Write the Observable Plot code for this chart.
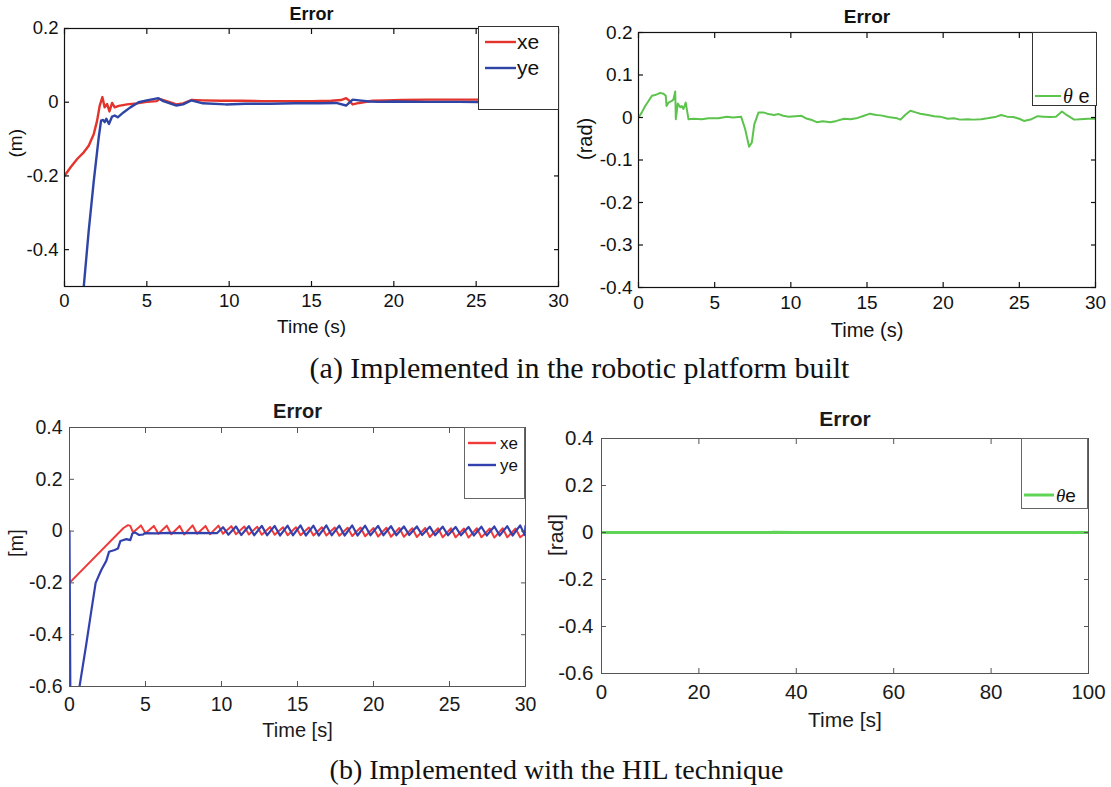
<!DOCTYPE html>
<html><head><meta charset="utf-8">
<script src="https://cdn.jsdelivr.net/npm/d3@7"></script>
<script src="https://cdn.jsdelivr.net/npm/@observablehq/plot@0.6"></script>
<style>
body{margin:0;background:#fff;}
#root{position:relative;width:1111px;height:787px;overflow:hidden;background:#fff;font-family:"Liberation Sans",Arial,sans-serif;}
.panel{position:absolute;}
.legend{position:absolute;background:#fff;box-sizing:border-box;}
.cap{position:absolute;font-family:"Liberation Serif","Times New Roman",serif;white-space:nowrap;color:#111;line-height:1;}
</style></head><body><div id="root"></div>
<script>
// ---------- data ----------
// (a) robotic platform: position errors [time (s), error (m)]
const xeRobot = [[0,-0.2],[0.36,-0.177],[0.77,-0.154],[1.17,-0.136],[1.47,-0.118],[1.78,-0.086],[1.98,-0.05],[2.14,-0.009],[2.3,0.014],[2.44,-0.014],[2.59,-0.005],[2.73,-0.025],[2.89,-0.002],[3.05,-0.014],[3.3,-0.01],[3.8,-0.006],[4.4,-0.003],[5.0,0.001],[5.6,0.003],[5.76,0.009],[6.2,0.003],[6.8,-0.006],[7.2,-0.003],[7.7,0.006],[8.4,0.005],[9.5,0.004],[10.7,0.004],[12,0.003],[13.5,0.003],[15,0.003],[16.2,0.004],[16.8,0.006],[17.1,0.011],[17.3,0.004],[17.5,-0.006],[17.9,-0.002],[18.7,0.004],[19.5,0.005],[20.5,0.006],[22,0.007],[24,0.007],[26,0.007],[28,0.006],[30,0.006]];
const yeRobot = [[0,-1.0],[1.17,-0.5],[1.47,-0.349],[1.78,-0.213],[2.08,-0.095],[2.22,-0.05],[2.34,-0.048],[2.44,-0.054],[2.54,-0.045],[2.7,-0.059],[2.89,-0.039],[3.05,-0.036],[3.23,-0.041],[3.6,-0.027],[4.0,-0.014],[4.5,0],[5.0,0.005],[5.7,0.011],[6.0,0.003],[6.8,-0.009],[7.2,-0.006],[7.7,0.005],[8.4,-0.003],[9.8,-0.006],[11,-0.004],[12.5,-0.004],[14,-0.003],[15.5,-0.003],[16.5,-0.002],[17.1,-0.009],[17.5,0.007],[17.9,0.005],[18.5,0.002],[19.1,0.001],[20,0.002],[22,0.001],[24,0.001],[26,0],[28,0],[30,0]];
// (a) robotic platform: orientation error [time (s), error (rad)]
const thetaRobot = [[0,0],[0.22,0.012],[0.44,0.027],[0.66,0.039],[0.88,0.051],[1.09,0.053],[1.25,0.055],[1.42,0.058],[1.64,0.056],[1.79,0.051],[1.84,0.027],[1.97,0.035],[2.19,0.039],[2.3,0.043],[2.41,0.061],[2.45,-0.004],[2.58,0.033],[2.74,0.024],[2.84,0.027],[2.95,0.02],[3.1,0.035],[3.28,-0.004],[3.6,-0.003],[4.16,-0.004],[4.6,-0.002],[5.25,-0.002],[5.8,0.002],[6.2,0],[6.74,0.0016],[7.0,-0.027],[7.26,-0.069],[7.44,-0.059],[7.6,-0.016],[7.88,0.012],[8.2,0.012],[8.53,0.008],[8.9,0.006],[9.2,0.008],[9.5,0.004],[9.85,0.002],[10.3,0.003],[10.7,0.004],[11.07,-0.003],[11.4,-0.006],[11.7,-0.011],[12.1,-0.009],[12.6,-0.011],[13.0,-0.008],[13.5,-0.003],[13.9,-0.004],[14.3,-0.002],[14.8,0.004],[15.2,0.009],[15.6,0.006],[15.9,0.005],[16.4,0.001],[16.98,-0.002],[17.2,-0.005],[17.5,0.006],[17.85,0.016],[18.2,0.012],[18.5,0.009],[19.0,0.006],[19.4,0.003],[19.8,0.002],[20.3,-0.003],[20.7,-0.002],[21.1,-0.005],[21.6,-0.004],[22.0,-0.005],[22.5,-0.004],[22.9,-0.002],[23.4,0.001],[23.8,0.006],[24.2,0.002],[24.6,0.001],[25.0,-0.003],[25.3,-0.008],[25.8,-0.004],[26.2,0.003],[26.6,0.002],[27.0,0.001],[27.4,0.002],[27.8,0.014],[28.1,0.006],[28.6,-0.005],[29.0,-0.004],[29.5,-0.003],[30,-0.003]];
// (b) HIL: position errors [time (s), error (m)]
const xeHIL = [[0,-0.2],[3.55,0.012],[3.85,0.023],[4.0,0.02],[4.18,-0.005],[4.7,0.022],[5.0,-0.008],[5.55,0.02],[5.85,-0.01],[6.4,0.021],[6.7,-0.012],[7.25,0.02],[7.55,-0.013],[8.1,0.022],[8.4,-0.01],[8.95,0.02],[9.25,-0.012],[9.8,0.021],[10.1,-0.01],[10.65,0.019],[10.95,-0.012],[11.5,0.018],[11.8,-0.013],[12.35,0.017],[12.65,-0.014],[13.2,0.016],[13.5,-0.014],[14.05,0.015],[14.35,-0.016],[14.9,0.015],[15.2,-0.016],[15.75,0.014],[16.05,-0.017],[16.6,0.015],[16.9,-0.017],[17.45,0.014],[17.75,-0.018],[18.3,0.013],[18.6,-0.019],[19.15,0.014],[19.45,-0.02],[20.0,0.012],[20.3,-0.021],[20.85,0.013],[21.15,-0.022],[21.7,0.012],[22.0,-0.022],[22.55,0.011],[22.85,-0.023],[23.4,0.012],[23.7,-0.023],[24.25,0.011],[24.55,-0.024],[25.1,0.011],[25.4,-0.024],[25.95,0.01],[26.25,-0.025],[26.8,0.011],[27.1,-0.024],[27.65,0.01],[27.95,-0.025],[28.5,0.011],[28.8,-0.024],[29.35,0.01],[29.65,-0.024],[30,-0.008]];
const yeHIL = [[0,0],[0.08,-0.9],[0.66,-0.6],[1.1,-0.438],[1.43,-0.31],[1.72,-0.2],[2.09,-0.15],[2.42,-0.115],[2.6,-0.08],[2.97,-0.073],[3.19,-0.067],[3.35,-0.038],[3.74,-0.031],[4.0,-0.035],[4.14,-0.009],[4.3,-0.005],[4.58,-0.015],[4.85,-0.013],[4.96,-0.008],[5.7,-0.009],[6.5,-0.007],[7.5,-0.008],[8.5,-0.007],[9.3,-0.008],[9.7,-0.008],[10.1,0.015],[10.45,-0.014],[10.95,0.018],[11.3,-0.015],[11.8,0.019],[12.15,-0.016],[12.65,0.02],[13.0,-0.016],[13.5,0.02],[13.85,-0.017],[14.35,0.021],[14.7,-0.016],[15.2,0.022],[15.55,-0.017],[16.05,0.021],[16.4,-0.017],[16.9,0.022],[17.25,-0.016],[17.75,0.021],[18.1,-0.017],[18.6,0.022],[18.95,-0.017],[19.45,0.021],[19.8,-0.016],[20.3,0.02],[20.65,-0.016],[21.15,0.019],[21.5,-0.016],[22.0,0.018],[22.35,-0.015],[22.85,0.018],[23.2,-0.015],[23.7,0.017],[24.05,-0.016],[24.55,0.017],[24.9,-0.016],[25.4,0.016],[25.75,-0.016],[26.25,0.016],[26.6,-0.017],[27.1,0.017],[27.45,-0.017],[27.95,0.018],[28.3,-0.017],[28.8,0.019],[29.15,-0.017],[29.65,0.022],[29.95,-0.015],[30,0.02]];
// (b) HIL: orientation error [time (s), error (rad)]
const thetaHIL = [[0,0],[20,0],[35,0],[35.2,0.001],[40,0],[60,0],[80,0],[100,0]];

// tick labels
const xTicks30 = [0,5,10,15,20,25,30];
const xTicks100 = [0,20,40,60,80,100];
const yTicksA1 = [0.2,0,-0.2,-0.4];
const yTicksA2 = [0.2,0.1,0,-0.1,-0.2,-0.3,-0.4];
const yTicksB = [0.4,0.2,0,-0.2,-0.4,-0.6];

// text
const titles = ["Error","Error","Error","Error"];
const xLabels = ["Time (s)","Time (s)","Time [s]","Time [s]"];
const yLabels = ["(m)","(rad)","[m]","[rad]"];
const captions = ["(a) Implemented in the robotic platform built","(b) Implemented with the HIL technique"];

// colours
const RED_A = "#e3342c", BLUE_A = "#2e45a6", GREEN_A = "#5cc44c";
const RED_B = "#f03a3a", BLUE_B = "#3341ae", GREEN_B = "#5fd457";

// ---------- drawing ----------
const FONT = "'Liberation Sans', Arial, Helvetica, sans-serif";
const root = document.getElementById("root");
const fmt = d => d === 0 ? "0" : String(d);

function drawPanel(o) {
  const ml = o.L - o.left, mr = o.left + o.width - o.R, mt = o.T - o.top, mb = o.top + o.height - o.B;
  const marks = [];
  for (const s of o.series) {
    marks.push(Plot.line(s.data, {x: d => d[0], y: d => d[1], stroke: s.color, strokeWidth: s.width, clip: true}));
  }
  const tc = {stroke: o.frame, strokeWidth: o.frameWidth, tickFormat: () => "", label: null};
  marks.push(Plot.axisX({...tc, ticks: o.xTicks, anchor: "bottom", tickSize: 5, dy: -5}));
  marks.push(Plot.axisX({...tc, ticks: o.xTicks, anchor: "top", tickSize: 5, dy: 5}));
  marks.push(Plot.axisY({...tc, ticks: o.yTicks, anchor: "left", tickSize: 5, dx: 5}));
  marks.push(Plot.axisY({...tc, ticks: o.yTicks, anchor: "right", tickSize: 5, dx: -5}));
  marks.push(Plot.axisX({ticks: o.xTicks, anchor: "bottom", tickSize: 0, tickPadding: o.xPad, tickFormat: fmt, label: null, fontSize: o.tickFont, fill: o.textColor}));
  marks.push(Plot.axisY({ticks: o.yTicks, anchor: "left", tickSize: 0, tickPadding: o.yPad, tickFormat: fmt, label: null, fontSize: o.tickFont, fill: o.textColor}));
  marks.push(Plot.frame({stroke: o.frame, strokeWidth: o.frameWidth}));
  marks.push(Plot.text([o.title], {frameAnchor: "top", lineAnchor: "middle", dy: o.titleDy, fontSize: o.titleFont, fontWeight: "bold", fill: o.textColor}));
  marks.push(Plot.text([o.xLabel], {frameAnchor: "bottom", lineAnchor: "middle", dy: o.xLabelDy, fontSize: o.labelFont, fill: o.textColor}));
  marks.push(Plot.text([o.yLabel], {frameAnchor: "left", lineAnchor: "middle", dx: o.yLabelDx, rotate: -90, fontSize: o.labelFont, fill: o.textColor}));
  const svg = Plot.plot({
    width: o.width, height: o.height,
    marginLeft: ml, marginRight: mr, marginTop: mt, marginBottom: mb,
    x: {domain: o.xDomain},
    y: {domain: o.yDomain},
    style: {fontFamily: FONT, background: "transparent", overflow: "visible", color: o.textColor},
    marks
  });
  const div = document.createElement("div");
  div.className = "panel";
  div.style.left = o.left + "px"; div.style.top = o.top + "px";
  div.appendChild(svg);
  root.appendChild(div);
}

function addLegend(o) {
  const div = document.createElement("div");
  div.className = "legend";
  Object.assign(div.style, {left: o.left + "px", top: o.top + "px", width: o.width + "px", height: o.height + "px", border: o.border});
  const svg = d3.create("svg").attr("width", o.width).attr("height", o.height).style("position","absolute").style("left","-1px").style("top","-1px").style("overflow","visible");
  for (const it of o.items) {
    svg.append("line").attr("x1", o.lineX).attr("x2", o.lineX + o.lineLen).attr("y1", it.y).attr("y2", it.y)
      .attr("stroke", it.color).attr("stroke-width", o.lineWidth);
    const t = svg.append("text").attr("x", o.textX).attr("y", it.y).attr("dy", "0.35em")
      .attr("font-family", FONT).attr("font-size", o.fontSize).attr("fill", "#111");
    if (it.theta) {
      t.append("tspan").attr("font-family", "'Liberation Serif', serif").attr("font-style", "italic").text("θ");
      t.append("tspan").text(it.label);
    } else t.text(it.label);
  }
  div.appendChild(svg.node());
  root.appendChild(div);
}

// (a) left
drawPanel({left: 0, top: 0, width: 575, height: 345, L: 64, R: 558, T: 28, B: 286,
  xDomain: [0,30], yDomain: [-0.5,0.2], xTicks: xTicks30, yTicks: yTicksA1,
  series: [{data: xeRobot, color: RED_A, width: 2.4}, {data: yeRobot, color: BLUE_A, width: 2.4}],
  frame: "#111", frameWidth: 1.2, textColor: "#111", tickFont: 18.5, labelFont: 19, titleFont: 18,
  xPad: 7, yPad: 6, title: titles[0], xLabel: xLabels[0], yLabel: yLabels[0], titleDy: -14, xLabelDy: 40, yLabelDx: -49});
addLegend({left: 478, top: 26, width: 81, height: 84, border: "1.5px solid #333",
  items: [{label: "xe", color: RED_A, y: 16}, {label: "ye", color: BLUE_A, y: 42}],
  lineX: 7, lineLen: 31, lineWidth: 2.4, textX: 39, fontSize: 21});

// (a) right
drawPanel({left: 570, top: 0, width: 541, height: 345, L: 638, R: 1095, T: 32, B: 287,
  xDomain: [0,30], yDomain: [-0.4,0.2], xTicks: xTicks30, yTicks: yTicksA2,
  series: [{data: thetaRobot, color: GREEN_A, width: 2}],
  frame: "#111", frameWidth: 1.2, textColor: "#111", tickFont: 19, labelFont: 20, titleFont: 19,
  xPad: 8, yPad: 6, title: titles[1], xLabel: xLabels[1], yLabel: yLabels[1], titleDy: -16, xLabelDy: 43, yLabelDx: -53});
addLegend({left: 1032, top: 32, width: 65, height: 74, border: "1.5px solid #333",
  items: [{label: " e", color: GREEN_A, y: 64, theta: true}],
  lineX: 3, lineLen: 26, lineWidth: 2, textX: 31, fontSize: 20});

// (b) left
drawPanel({left: 0, top: 390, width: 545, height: 355, L: 69, R: 525, T: 427, B: 686,
  xDomain: [0,30], yDomain: [-0.6,0.4], xTicks: xTicks30, yTicks: yTicksB,
  series: [{data: xeHIL, color: RED_B, width: 2}, {data: yeHIL, color: BLUE_B, width: 2.2}],
  frame: "#555", frameWidth: 1, textColor: "#1a1a1a", tickFont: 19.5, labelFont: 20, titleFont: 20,
  xPad: 11, yPad: 7, title: titles[2], xLabel: xLabels[2], yLabel: yLabels[2], titleDy: -16, xLabelDy: 44, yLabelDx: -53});
addLegend({left: 464, top: 427, width: 61, height: 72, border: "1px solid #666",
  items: [{label: "xe", color: RED_B, y: 16}, {label: "ye", color: BLUE_B, y: 38}],
  lineX: 4, lineLen: 28, lineWidth: 2.4, textX: 36, fontSize: 17});

// (b) right
drawPanel({left: 545, top: 390, width: 566, height: 355, L: 601, R: 1088, T: 438, B: 673,
  xDomain: [0,100], yDomain: [-0.6,0.4], xTicks: xTicks100, yTicks: yTicksB,
  series: [{data: thetaHIL, color: GREEN_B, width: 3}],
  frame: "#555", frameWidth: 1, textColor: "#1a1a1a", tickFont: 20.5, labelFont: 21, titleFont: 21,
  xPad: 11, yPad: 8, title: titles[3], xLabel: xLabels[3], yLabel: yLabels[3], titleDy: -19, xLabelDy: 47, yLabelDx: -45});
addLegend({left: 1021, top: 438, width: 67, height: 71, border: "1px solid #666",
  items: [{label: "e", color: GREEN_B, y: 57, theta: true}],
  lineX: 3, lineLen: 30, lineWidth: 3, textX: 35, fontSize: 19});

// captions
const capA = document.createElement("div");
capA.className = "cap"; capA.textContent = captions[0];
Object.assign(capA.style, {left: "0px", width: "1111px", textAlign: "center", top: "353px", fontSize: "30px", paddingLeft: "48px", boxSizing: "border-box"});
root.appendChild(capA);
const capB = document.createElement("div");
capB.className = "cap"; capB.textContent = captions[1];
Object.assign(capB.style, {left: "0px", width: "1111px", textAlign: "center", top: "756px", fontSize: "28px", paddingLeft: "2px", boxSizing: "border-box"});
root.appendChild(capB);
</script>
</body></html>
